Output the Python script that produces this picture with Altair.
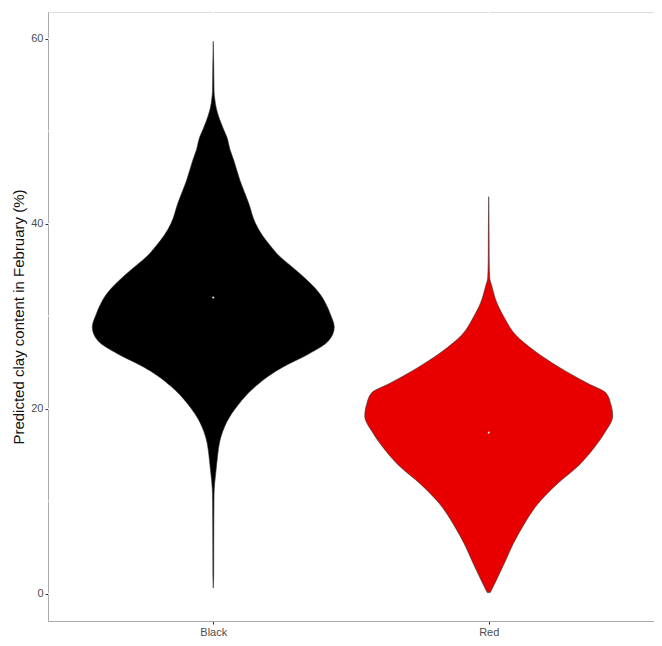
import altair as alt
import pandas as pd

# ---- data ----
groups = ["Black", "Red"]
group_pos = [1, 2]
medians = [32.0, 17.4]

# Black violin: clay content values and (relative) density widths
black_y = [0.6, 2, 5, 8, 10.7, 12, 13.5, 15, 16.4, 17.5, 18.5, 19.5, 20.5, 21.5, 22.4,
           23.5, 24.5, 25.9, 27.3, 28.8, 30.2, 31.2, 32.3, 33.4, 34.4, 35.5, 36.5,
           37.6, 38.7, 40, 42.2, 44.7, 46.8, 48, 49.3, 50.3, 51.4, 52.5, 53.5, 54.3,
           57, 59.7]
black_d = [0, 0.4, 0.5, 0.6, 0.8, 1.5, 3, 4.5, 6.5, 9.5, 13.5, 19, 26, 34, 43,
           56, 71, 97, 117, 123, 119, 115, 109, 100, 90, 78, 67,
           58, 50, 43, 36, 27, 21, 17, 14, 10, 6, 3, 1.5, 0.8,
           0.5, 0]

# Red violin
red_y = [0.1, 1.5, 3.3, 5.4, 7.5, 9.7, 11.8, 13.9, 15.6, 17.4, 19.2, 20.5, 21.7,
         22.7, 24.5, 26.2, 28.0, 29.8, 31.5, 33.3, 34.1, 36, 40, 42.9]
red_d = [1.5, 8, 16, 25, 36, 50, 69, 92, 106, 118, 126, 124, 119,
         101, 71, 47, 27, 16, 8, 3, 1, 0.5, 0.3, 0]

y_ticks = [0, 20, 40, 60]
grid_major = [0, 20, 40, 60]
grid_minor = [10, 30, 50]

# ---- build tables ----
max_d = max(max(black_d), max(red_d))
half_max = 0.45  # violin width 0.9 of a category slot
rows = []
for g, pos, ys, ds in [("Black", 1, black_y, black_d), ("Red", 2, red_y, red_d)]:
    for yv, dv in zip(ys, ds):
        h = dv / max_d * half_max
        rows.append({"group": g, "y": yv, "xl": pos - h, "xr": pos + h})
vdf = pd.DataFrame(rows)
mdf = pd.DataFrame({"group": groups, "x": group_pos, "y": medians})
gdf = pd.DataFrame({"y": grid_major + grid_minor,
                    "kind": ["major"] * len(grid_major) + ["minor"] * len(grid_minor)})
vgdf = pd.DataFrame({"x": group_pos})

xscale = alt.Scale(domain=[0.4, 2.6], nice=False, zero=False)
yscale = alt.Scale(domain=[-2.97, 62.87], nice=False, zero=False)

grid_h = alt.Chart(gdf).mark_rule(color="white").encode(
    y=alt.Y("y:Q", scale=yscale),
    strokeWidth=alt.StrokeWidth("kind:N", scale=alt.Scale(domain=["major", "minor"], range=[1.3, 0.9]), legend=None),
)
grid_v = alt.Chart(vgdf).mark_rule(color="white", strokeWidth=1.3).encode(
    x=alt.X("x:Q", scale=xscale),
)

violins = alt.Chart(vdf).mark_area(
    orient="horizontal", interpolate="monotone", stroke="#333333", strokeWidth=0.6
).encode(
    y=alt.Y("y:Q", scale=yscale,
            axis=alt.Axis(values=y_ticks, title="Predicted clay content in February (%)",
                          grid=False, tickSize=3, tickColor="#333333", labelPadding=2,
                          labelColor="#4d4d4d", labelFontSize=11, titleFontSize=15,
                          titleFontWeight="normal", titleColor="#111111", titlePadding=4,
                          domain=True, domainColor="#aaaaaa", labelFont="Liberation Sans",
                          titleFont="Liberation Sans")),
    x=alt.X("xl:Q", scale=xscale, stack=None,
            axis=alt.Axis(values=group_pos, labelExpr="datum.value == 1 ? 'Black' : 'Red'",
                          title=None, grid=False, tickSize=3, tickColor="#333333",
                          labelPadding=2, labelColor="#4d4d4d", labelFontSize=11,
                          domain=True, domainColor="#aaaaaa", labelFont="Liberation Sans")),
    x2="xr:Q",
    fill=alt.Fill("group:N", scale=alt.Scale(domain=groups, range=["#000000", "#e80000"]), legend=None),
    detail="group:N",
)

meds = alt.Chart(mdf).mark_square(color="white", size=3, opacity=1).encode(
    x=alt.X("x:Q", scale=xscale),
    y=alt.Y("y:Q", scale=yscale),
)

chart = alt.layer(grid_h, grid_v, violins, meds).properties(
    width=606, height=609,
    autosize=alt.AutoSizeParams(type="none"),
    padding={"left": 40, "top": 4, "right": 0, "bottom": 17},
).configure_view(fill="#f8f8f8", stroke="#b5b5b5", strokeWidth=1).configure(background="white")

chart.save("out.html", embed_options={"renderer": "svg", "actions": False})
